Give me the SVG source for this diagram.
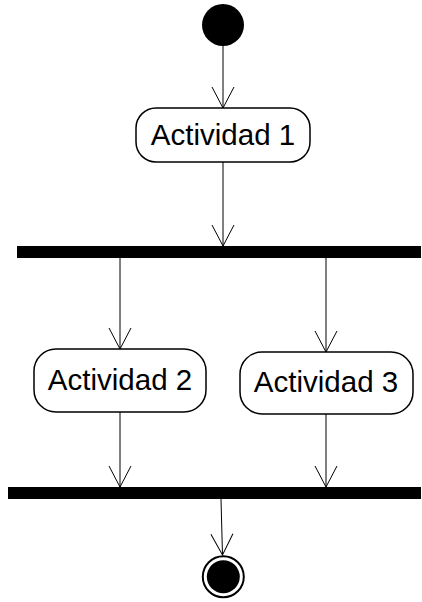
<svg xmlns="http://www.w3.org/2000/svg" width="422" height="602" viewBox="0 0 422 602">
<style>
.box{fill:#fff;stroke:#000;stroke-width:1.5}
.lbl{font-family:"Liberation Sans",Arial,sans-serif;font-size:29.5px;text-anchor:middle;fill:#000}
.edge{fill:none;stroke:#000;stroke-width:1}
.bar{fill:#000}
</style>
<defs>
<marker id="open" markerWidth="24" markerHeight="24" refX="22" refY="12" orient="auto" markerUnits="userSpaceOnUse">
<path d="M1,1 L22,12 L1,23" fill="none" stroke="#000" stroke-width="1"/>
</marker>
</defs>
<g id="connectors">
<line class="edge" x1="223" y1="46" x2="223" y2="108" marker-end="url(#open)"/>
<line class="edge" x1="223" y1="162" x2="223" y2="246" marker-end="url(#open)"/>
<line class="edge" x1="120" y1="258" x2="120" y2="349" marker-end="url(#open)"/>
<line class="edge" x1="326" y1="258" x2="326" y2="352" marker-end="url(#open)"/>
<line class="edge" x1="120" y1="412" x2="120" y2="487" marker-end="url(#open)"/>
<line class="edge" x1="326" y1="414" x2="326" y2="487" marker-end="url(#open)"/>
<line class="edge" x1="221" y1="499" x2="222.5" y2="555" marker-end="url(#open)"/>
</g>
<g id="start"><circle cx="223" cy="25" r="21" fill="#000"/></g>
<g id="act1"><rect class="box" x="136" y="108" width="174" height="54" rx="20"/><text class="lbl" x="223" y="145">Actividad 1</text></g>
<g id="fork"><rect class="bar" x="17" y="246" width="404" height="12"/></g>
<g id="act2"><rect class="box" x="34" y="349" width="172" height="63" rx="22"/><text class="lbl" x="120" y="390">Actividad 2</text></g>
<g id="act3"><rect class="box" x="240" y="352" width="173" height="62" rx="22"/><text class="lbl" x="326" y="392">Actividad 3</text></g>
<g id="join"><rect class="bar" x="8" y="487" width="413" height="12"/></g>
<g id="end"><circle cx="223.3" cy="576.7" r="20.5" fill="#fff" stroke="#000" stroke-width="2"/><circle cx="223.3" cy="576.7" r="16.5" fill="#000"/></g>
</svg>
